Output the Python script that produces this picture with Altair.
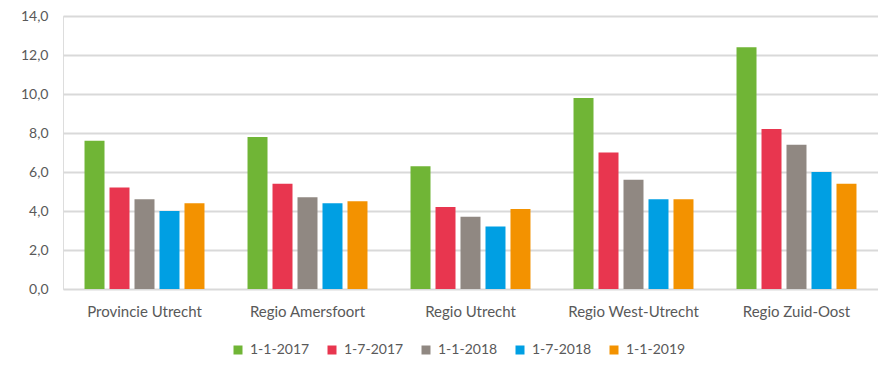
import altair as alt
import pandas as pd

regions = ["Provincie Utrecht", "Regio Amersfoort", "Regio Utrecht", "Regio West-Utrecht", "Regio Zuid-Oost"]
dates = ["1-1-2017", "1-7-2017", "1-1-2018", "1-7-2018", "1-1-2019"]
colors = ["#70b536", "#e8364f", "#908882", "#009fe3", "#f39200"]

v_2017_01 = [7.6, 7.8, 6.3, 9.8, 12.4]
v_2017_07 = [5.2, 5.4, 4.2, 7.0, 8.2]
v_2018_01 = [4.6, 4.7, 3.7, 5.6, 7.4]
v_2018_07 = [4.0, 4.4, 3.2, 4.6, 6.0]
v_2019_01 = [4.4, 4.5, 4.1, 4.6, 5.4]

series = [v_2017_01, v_2017_07, v_2018_01, v_2018_07, v_2019_01]
rows = []
for d, vals in zip(dates, series):
    for r, v in zip(regions, vals):
        rows.append({"regio": r, "datum": d, "waarde": v})
df = pd.DataFrame(rows)

font = "Lato"
label_color = "#595959"

chart = alt.Chart(df).mark_bar().encode(
    x=alt.X("regio:N", sort=regions, title=None,
            scale=alt.Scale(paddingInner=0.264, paddingOuter=0.132),
            axis=alt.Axis(labelAngle=0, domain=False, ticks=False, labelPadding=15,
                          labelFontSize=15, labelColor=label_color, labelFont=font)),
    xOffset=alt.XOffset("datum:N", sort=dates,
                        scale=alt.Scale(paddingInner=0.2, paddingOuter=0)),
    y=alt.Y("waarde:Q", title=None,
            scale=alt.Scale(domain=[0, 14], nice=False),
            axis=alt.Axis(values=[0, 2, 4, 6, 8, 10, 12, 14], domain=False, ticks=False,
                          labelPadding=15, labelFontSize=14, labelColor=label_color, labelFont=font,
                          labelExpr="replace(format(datum.value, '.1f'), '.', ',')",
                          gridColor="#d9d9d9", gridWidth=2)),
    color=alt.Color("datum:N", sort=dates, title=None,
                    scale=alt.Scale(domain=dates, range=colors),
                    legend=alt.Legend(orient="none", legendX=168, legendY=327, direction="horizontal",
                                      symbolType="square", symbolSize=81, symbolStrokeWidth=0,
                                      labelFontSize=14, labelColor=label_color, labelFont=font,
                                      columnPadding=15, labelOffset=5)),
).properties(
    width=815, height=273,
    autosize="none",
    padding={"left": 55, "top": 8, "right": 0, "bottom": 76},
).configure_view(stroke="transparent", strokeWidth=0).configure(background="white")

chart.save("out.html", embed_options={"renderer": "svg", "actions": False})
